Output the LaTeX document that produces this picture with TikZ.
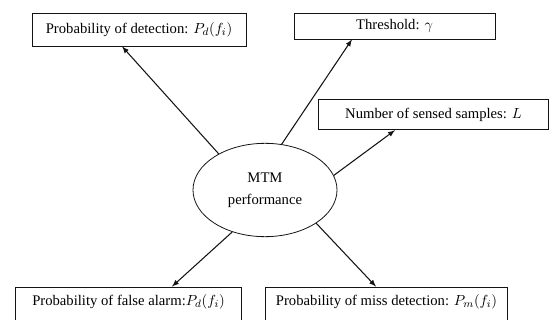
\documentclass[tikz,border=0pt]{standalone}
\usepackage{fontspec}
\setmainfont{Liberation Serif}
\usepackage{amsmath}
\usetikzlibrary{shapes.geometric}
\definecolor{ink}{RGB}{20, 20, 20}

\begin{document}
\begin{tikzpicture}[x=0.75pt, y=-0.75pt, >=latex,
    font=\fontsize{11}{13.5}\selectfont,
    box/.style={draw=ink, rectangle, inner sep=0pt, semithick},
    arr/.style={->, color=ink, thick}]
      \useasboundingbox (0,0) rectangle (552,320);
      \node[draw=ink, ellipse, semithick, minimum width=108pt, minimum height=70pt, inner sep=0pt, align=center](perf) at (265,190) {MTM\\[3pt]performance};
      \node[box, minimum width=160.5pt, minimum height=24.75pt](det) at (139,29.5) {Probability of detection: $P_d(f_i)$};
      \node[box, minimum width=150.75pt, minimum height=19.5pt](thr) at (394.5,26) {Threshold: $\gamma$};
      \node[box, minimum width=173pt, minimum height=23pt](num) at (433.5,114.5) {Number of sensed samples: $L$};
      \node[box, minimum width=170pt, text height=13.5pt, text depth=13pt, anchor=base](fa) at (128.5,305) {Probability of false alarm:$P_d(f_i)$};
      \node[box, minimum width=182pt, text height=13.5pt, text depth=13pt, anchor=base](md) at (386.5,305) {Probability of miss detection: $P_m(f_i)$};
      \draw[arr] (perf.142) -- ([xshift=-12.75pt]det.south);
      \draw[arr] (perf.70) -- ([xshift=-31.9pt]thr.south);
      \draw[arr] (perf.12) -- ([xshift=-28.9pt]num.south);
      \draw[arr] (perf.232) -- ([xshift=32.6pt]fa.north);
      \draw[arr] (perf.327) -- ([xshift=-7.9pt]md.north);
    \end{tikzpicture}
\end{document}
